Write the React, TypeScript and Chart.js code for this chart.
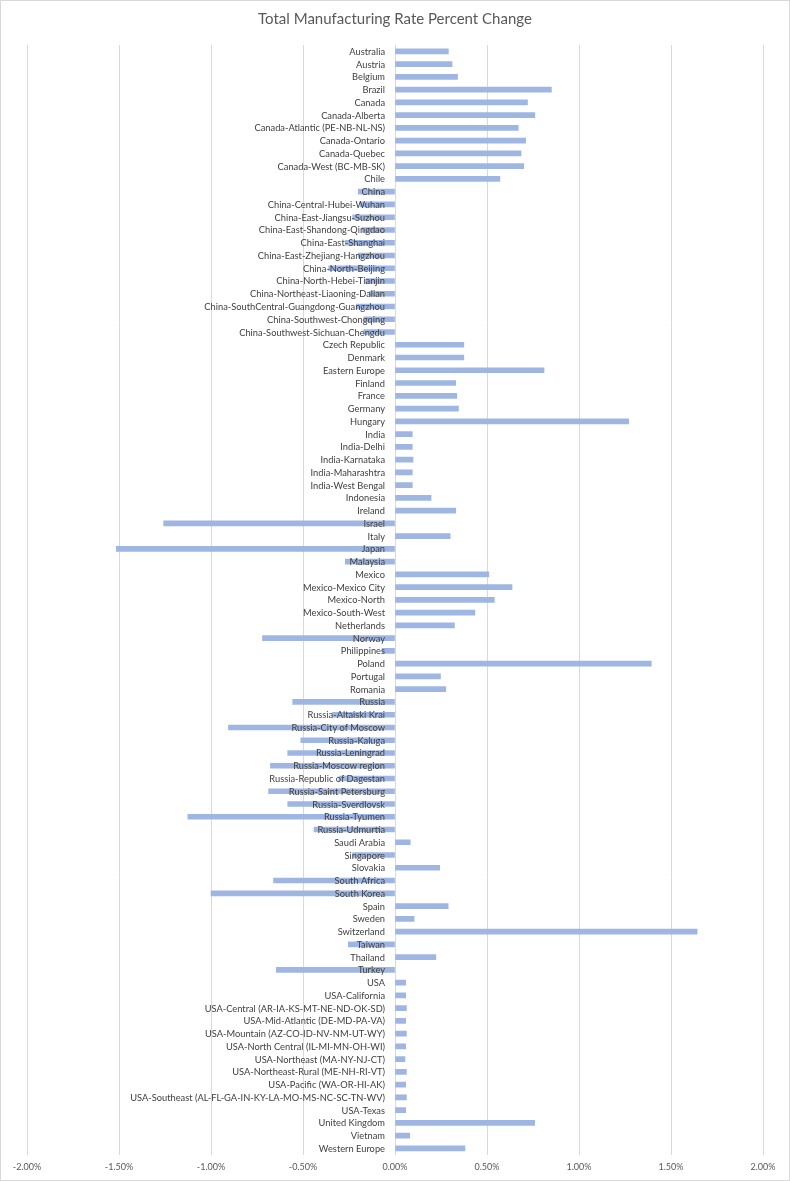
import React, { useEffect, useRef } from "react";
import { Chart, registerables } from "chart.js";

Chart.register(...registerables);

const TITLE = "Total Manufacturing Rate Percent Change";

const categories: string[] = [
  "Australia", "Austria", "Belgium", "Brazil", "Canada", "Canada-Alberta",
  "Canada-Atlantic (PE-NB-NL-NS)", "Canada-Ontario", "Canada-Quebec", "Canada-West (BC-MB-SK)",
  "Chile", "China", "China-Central-Hubei-Wuhan", "China-East-Jiangsu-Suzhou",
  "China-East-Shandong-Qingdao", "China-East-Shanghai", "China-East-Zhejiang-Hangzhou",
  "China-North-Beijing", "China-North-Hebei-Tianjin", "China-Northeast-Liaoning-Dalian",
  "China-SouthCentral-Guangdong-Guangzhou", "China-Southwest-Chongqing",
  "China-Southwest-Sichuan-Chengdu", "Czech Republic", "Denmark", "Eastern Europe",
  "Finland", "France", "Germany", "Hungary", "India", "India-Delhi", "India-Karnataka",
  "India-Maharashtra", "India-West Bengal", "Indonesia", "Ireland", "Israel", "Italy",
  "Japan", "Malaysia", "Mexico", "Mexico-Mexico City", "Mexico-North", "Mexico-South-West",
  "Netherlands", "Norway", "Philippines", "Poland", "Portugal", "Romania", "Russia",
  "Russia-Altaiski Krai", "Russia-City of Moscow", "Russia-Kaluga", "Russia-Leningrad",
  "Russia-Moscow region", "Russia-Republic of Dagestan", "Russia-Saint Petersburg",
  "Russia-Sverdlovsk", "Russia-Tyumen", "Russia-Udmurtia", "Saudi Arabia", "Singapore",
  "Slovakia", "South Africa", "South Korea", "Spain", "Sweden", "Switzerland", "Taiwan",
  "Thailand", "Turkey", "USA", "USA-California", "USA-Central (AR-IA-KS-MT-NE-ND-OK-SD)",
  "USA-Mid-Atlantic (DE-MD-PA-VA)", "USA-Mountain (AZ-CO-ID-NV-NM-UT-WY)",
  "USA-North Central (IL-MI-MN-OH-WI)", "USA-Northeast (MA-NY-NJ-CT)",
  "USA-Northeast-Rural (ME-NH-RI-VT)", "USA-Pacific (WA-OR-HI-AK)",
  "USA-Southeast (AL-FL-GA-IN-KY-LA-MO-MS-NC-SC-TN-WV)", "USA-Texas", "United Kingdom",
  "Vietnam", "Western Europe",
];

// percent change values (in %)
const rateChange: number[] = [
  0.29, 0.31, 0.34, 0.85, 0.72, 0.76,
  0.67, 0.71, 0.685, 0.70,
  0.57, -0.20, -0.19, -0.23,
  -0.18, -0.27, -0.20,
  -0.36, -0.16, -0.14,
  -0.21, -0.17,
  -0.17, 0.374, 0.374, 0.81,
  0.33, 0.336, 0.345, 1.27, 0.094, 0.094, 0.098,
  0.094, 0.094, 0.196, 0.33, -1.257, 0.30,
  -1.515, -0.27, 0.51, 0.636, 0.54, 0.434,
  0.323, -0.72, -0.07, 1.393, 0.247, 0.276, -0.556,
  -0.34, -0.905, -0.512, -0.583,
  -0.677, -0.305, -0.687,
  -0.583, -1.126, -0.44, 0.083, -0.23,
  0.243, -0.66, -1.0, 0.289, 0.104, 1.642, -0.254,
  0.222, -0.645, 0.058, 0.058, 0.062,
  0.058, 0.062,
  0.058, 0.054,
  0.062, 0.058,
  0.062, 0.058, 0.759,
  0.08, 0.38,
];

const xTicks: number[] = [-2, -1.5, -1, -0.5, 0, 0.5, 1, 1.5, 2];

const FONT = "Lato, 'Open Sans', sans-serif";

export default function App() {
  const canvasRef = useRef<HTMLCanvasElement | null>(null);

  useEffect(() => {
    document.body.style.margin = "0";
    const canvas = canvasRef.current;
    if (!canvas) return;

    const backgroundPlugin = {
      id: "bgBorder",
      beforeDraw(chart: any) {
        const ctx = chart.ctx;
        ctx.save();
        ctx.fillStyle = "#ffffff";
        ctx.fillRect(0, 0, chart.width, chart.height);
        ctx.strokeStyle = "#D9D9D9";
        ctx.lineWidth = 1;
        ctx.strokeRect(0.5, 0.5, chart.width - 1, chart.height - 1);
        ctx.restore();
      },
    };

    const categoryLabelPlugin = {
      id: "categoryLabels",
      afterDatasetsDraw(chart: any) {
        const ctx = chart.ctx;
        const xs = chart.scales.x;
        const ys = chart.scales.y;
        const x0 = xs.getPixelForValue(0) - 10;
        ctx.save();
        ctx.font = `9.3px ${FONT}`;
        ctx.fillStyle = "#404040";
        ctx.textAlign = "right";
        ctx.textBaseline = "middle";
        categories.forEach((c, i) => {
          ctx.fillText(c, x0, ys.getPixelForValue(i) + 0.5);
        });
        ctx.restore();
      },
    };

    const chart = new Chart(canvas, {
      type: "bar",
      data: {
        labels: categories,
        datasets: [
          {
            label: "Rate Percent Change",
            data: rateChange,
            backgroundColor: "#9FB6E2",
            borderWidth: 0,
            barThickness: 5,
          },
        ],
      },
      options: {
        indexAxis: "y",
        responsive: false,
        animation: false,
        devicePixelRatio: 1,
        layout: { padding: { left: 27, right: 27, top: 0, bottom: 1 } },
        plugins: {
          legend: { display: false },
          tooltip: { enabled: false },
          title: {
            display: true,
            text: TITLE,
            color: "#595959",
            font: { family: FONT, size: 15, weight: "normal" },
            padding: { top: 10, bottom: 17 },
          },
        },
        scales: {
          x: {
            min: -2,
            max: 2,
            afterBuildTicks(scale: any) {
              scale.ticks = xTicks.map((v) => ({ value: v }));
            },
            ticks: {
              color: "#595959",
              font: { family: FONT, size: 9, lineHeight: 0.8 },
              padding: 9,
              maxRotation: 0,
              callback: (v: any) => Number(v).toFixed(2) + "%",
            },
            grid: { color: "#D9D9D9", lineWidth: 1, drawTicks: false },
            border: { display: false },
          },
          y: {
            display: false,
            grid: { display: false },
          },
        },
      },
      plugins: [backgroundPlugin, categoryLabelPlugin],
    } as any);

    return () => chart.destroy();
  }, []);

  return (
    <div style={{ width: 790, height: 1181 }}>
      <canvas ref={canvasRef} width={790} height={1181} style={{ display: "block" }} />
    </div>
  );
}
